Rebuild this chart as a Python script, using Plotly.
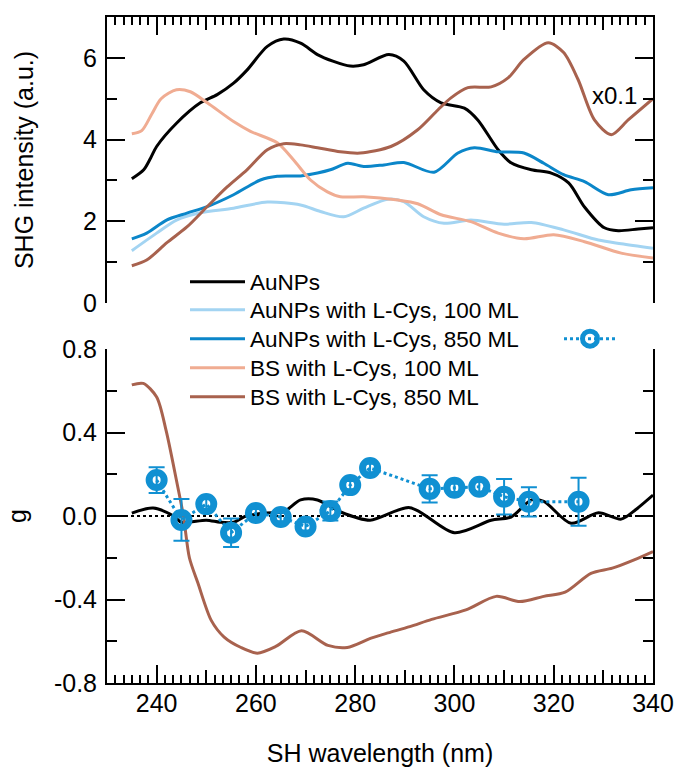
import plotly.graph_objects as go

# ---------------- data ----------------
# Top panel: SHG intensity (a.u.)
au_x = [235, 237.4, 238.8, 240, 244, 248.8, 252.2, 255.5, 258.2, 262.3, 265.6, 269, 272.4, 275.5, 279, 281.7,
        286.8, 289.8, 293.8, 297.3, 302, 304.7, 308.8, 311.4, 315.5, 319.5, 323, 326.2, 330.2, 333, 337, 340]
au_y = [3.04, 3.26, 3.55, 3.83, 4.4, 4.9, 5.1, 5.38, 5.7, 6.28, 6.46, 6.36, 6.08, 5.92, 5.8, 5.83,
        6.08, 5.92, 5.22, 4.9, 4.77, 4.48, 3.75, 3.43, 3.26, 3.18, 2.94, 2.35, 1.84, 1.77, 1.81, 1.84]

au100_x = [235, 240, 244, 248.8, 255.5, 262.3, 269, 273, 277.7, 281.7, 286.6, 289.8, 293.8, 297.9,
           303.3, 310, 315.5, 322, 329, 333.6, 340]
au100_y = [1.28, 1.71, 2.03, 2.21, 2.32, 2.47, 2.4, 2.24, 2.11, 2.32, 2.54, 2.48, 2.11, 1.95,
           2.03, 1.93, 1.97, 1.79, 1.54, 1.45, 1.34]

au850_x = [235, 238, 242, 246.1, 250.2, 255.5, 260.9, 264.3, 269, 272.4, 275, 278.5, 281.7, 285.8,
           289.8, 295.9, 300.7, 304, 308.8, 314, 318, 322, 326.2, 331, 335.6, 340]
au850_y = [1.57, 1.71, 2.03, 2.2, 2.36, 2.65, 3.01, 3.1, 3.11, 3.18, 3.26, 3.42, 3.34, 3.38,
           3.44, 3.2, 3.67, 3.8, 3.7, 3.67, 3.42, 3.14, 2.97, 2.65, 2.77, 2.82]

bs100_x = [235, 237, 239, 240.9, 244, 246.8, 250.2, 255.5, 258.9, 264.3, 267.6, 271, 274.4, 277, 281.7,
           288.6, 292.6, 297.3, 303.3, 308.8, 314, 320, 326.2, 333.6, 340]
bs100_y = [4.14, 4.22, 4.62, 5.0, 5.22, 5.17, 4.9, 4.44, 4.2, 3.92, 3.5, 3.01, 2.72, 2.6, 2.6,
           2.52, 2.43, 2.16, 1.99, 1.71, 1.57, 1.67, 1.5, 1.22, 1.1]

bs850_x = [235, 238, 242, 246.1, 250.2, 254.2, 258.2, 262.3, 265.6, 269, 272.4, 277, 281, 287.2,
           292.6, 296.7, 299.3, 302.7, 307.4, 310.8, 314, 318.9, 322, 324.9, 328.2, 331.6, 335, 340]
bs850_y = [0.91, 1.05, 1.47, 1.86, 2.36, 2.84, 3.26, 3.75, 3.9, 3.87, 3.8, 3.7, 3.67, 3.83,
           4.24, 4.73, 5.02, 5.27, 5.29, 5.51, 5.96, 6.37, 6.13, 5.47, 4.48, 4.12, 4.48, 5.0]

# Bottom panel: g
g_au_x = [235, 239.3, 243.4, 245, 250, 252.8, 255.5, 258, 262, 265.6, 269, 272.4, 277, 283, 291,
          300, 307.4, 311.4, 315.5, 318, 323.5, 329, 333.6, 336.5, 340]
g_au_y = [0.014, 0.038, 0.0, -0.03, -0.02, -0.03, -0.03, 0.0, 0.014, 0.02, 0.077, 0.077, 0.02, -0.02, 0.04,
          -0.08, -0.02, -0.005, 0.077, 0.07, -0.035, 0.015, -0.015, 0.03, 0.1]

g_bs_x = [235, 237.3, 240, 241.9, 244, 245.4, 246.6, 248.3, 251, 253.6, 257, 260.3, 264, 269.2, 274.5,
          278.4, 283.2, 286.6, 291, 295.4, 302.3, 308.4, 313.2, 318, 322.3, 327.5, 331.8, 336.2, 340]
g_bs_y = [0.628, 0.635, 0.57, 0.41, 0.17, 0.0, -0.2, -0.32, -0.50, -0.58, -0.63, -0.657, -0.625, -0.55, -0.62,
          -0.63, -0.585, -0.56, -0.53, -0.495, -0.45, -0.385, -0.41, -0.385, -0.365, -0.275, -0.25, -0.21, -0.17]

g_pts_x = [240, 245, 250, 255, 260, 265, 270, 275, 279, 283, 295, 300, 305, 310, 315, 325]
g_pts_y = [0.172, -0.019, 0.057, -0.08, 0.014, -0.005, -0.05, 0.024, 0.148, 0.23, 0.13, 0.135, 0.14, 0.092, 0.068, 0.068]
g_pts_err = [0.062, 0.1, 0.025, 0.068, 0.02, 0.02, 0.02, 0.045, 0.02, 0.02, 0.065, 0.02, 0.03, 0.085, 0.07, 0.115]

names = ["AuNPs", "AuNPs with L-Cys, 100 ML", "AuNPs with L-Cys, 850 ML",
         "BS with L-Cys, 100 ML", "BS with L-Cys, 850 ML"]
colors = ["#000000", "#a3d4f2", "#0b86c9", "#f0ac92", "#a8624e"]
marker_color = "#1090d2"

x_major = [240, 260, 280, 300, 320, 340]
x_mid = [250, 270, 290, 310, 330]
top_y_ticks = [0, 2, 4, 6]
bot_y_ticks = [-0.8, -0.4, 0.0, 0.4, 0.8]
bot_y_text = ["-0.8", "-0.4", "0.0", "0.4", "0.8"]

FONT = "Liberation Sans, Arial, sans-serif"
LW = 3
TICK_FS = 25
TITLE_FS = 25
LEG_FS = 22.5

fig = go.Figure()

legend_ids = ["legend", "legend2", "legend3", "legend4", "legend5"]
top_series = [(au_x, au_y), (au100_x, au100_y), (au850_x, au850_y), (bs100_x, bs100_y), (bs850_x, bs850_y)]
for (xs, ys), nm, c, lg in zip(top_series, names, colors, legend_ids):
    fig.add_trace(go.Scatter(x=xs, y=ys, mode="lines", name=nm, xaxis="x2", yaxis="y2",
                             line=dict(color=c, width=LW, shape="spline", smoothing=0.8),
                             legend=lg))

fig.add_trace(go.Scatter(x=g_au_x, y=g_au_y, mode="lines", showlegend=False, xaxis="x", yaxis="y",
                         line=dict(color=colors[0], width=LW, shape="spline", smoothing=0.8)))
fig.add_trace(go.Scatter(x=g_bs_x, y=g_bs_y, mode="lines", showlegend=False, xaxis="x", yaxis="y",
                         line=dict(color=colors[4], width=LW, shape="spline", smoothing=0.8)))
fig.add_trace(go.Scatter(x=g_pts_x, y=g_pts_y, mode="lines+markers", name=" ", legend="legend6",
                         xaxis="x", yaxis="y",
                         line=dict(color=marker_color, width=3, dash="dot"),
                         marker=dict(symbol="circle-open", size=15, color=marker_color,
                                     line=dict(width=7, color=marker_color)),
                         error_y=dict(type="data", array=g_pts_err, visible=True, color=marker_color,
                                      thickness=2, width=8)))
# empty traces to activate overlay axes (medium ticks)
fig.add_trace(go.Scatter(x=[], y=[], xaxis="x3", yaxis="y", showlegend=False, hoverinfo="skip"))
fig.add_trace(go.Scatter(x=[], y=[], xaxis="x4", yaxis="y2", showlegend=False, hoverinfo="skip"))

axis_common = dict(showgrid=False, zeroline=False, showline=True, linecolor="black", linewidth=2,
                   ticks="inside", tickcolor="black", tickwidth=2, automargin=False,
                   tickfont=dict(family=FONT, size=TICK_FS, color="black"))
minor_x = dict(tick0=240, dtick=20 / 12, ticklen=8, ticks="inside", tickcolor="black", tickwidth=2)

top_dom = [0.5706, 1.0]
bot_dom = [0.0, 0.5015]

PLOT_TOP, PLOT_BOT, PLOT_L, PLOT_W = 17, 683, 107, 546


def py(px):
    return (PLOT_BOT - px) / (PLOT_BOT - PLOT_TOP)


def pxx(px):
    return (px - PLOT_L) / PLOT_W


legend_rows = [282, 310, 339, 368, 397]
leg_layout = {}
for lg, row in zip(legend_ids, legend_rows):
    leg_layout[lg] = dict(x=pxx(185), y=py(row), xanchor="left", yanchor="middle",
                          bgcolor="rgba(0,0,0,0)", itemwidth=55,
                          font=dict(family=FONT, size=LEG_FS, color="black"))
leg_layout["legend6"] = dict(x=pxx(559), y=py(339), xanchor="left", yanchor="middle",
                             bgcolor="rgba(0,0,0,0)", itemwidth=52,
                             font=dict(family=FONT, size=LEG_FS, color="black"))

fig.update_layout(
    width=675, height=767,
    margin=dict(l=107, r=22, t=17, b=84, autoexpand=False),
    paper_bgcolor="white", plot_bgcolor="white",
    font=dict(family=FONT, size=21, color="black"),
    xaxis=dict(axis_common, range=[230, 340], domain=[0, 1], anchor="y", side="bottom",
               tickvals=x_major, ticklen=18, ticklabelstandoff=-3, minor=minor_x,
               title=dict(text="SH wavelength (nm)", font=dict(size=TITLE_FS), standoff=38)),
    xaxis2=dict(axis_common, range=[230, 340], domain=[0, 1], anchor="y2", side="top",
                tickvals=x_major, ticklen=18, showticklabels=False, minor=minor_x),
    xaxis3=dict(range=[230, 340], overlaying="x", anchor="y", side="bottom", showgrid=False, zeroline=False,
                showline=False, ticks="inside", tickvals=x_mid, ticklen=13, tickwidth=2, tickcolor="black",
                showticklabels=False),
    xaxis4=dict(range=[230, 340], overlaying="x2", anchor="y2", side="top", showgrid=False, zeroline=False,
                showline=False, ticks="inside", tickvals=x_mid, ticklen=13, tickwidth=2, tickcolor="black",
                showticklabels=False),
    yaxis=dict(axis_common, range=[-0.8, 0.8], domain=bot_dom, anchor="x", mirror="ticks",
               tickvals=bot_y_ticks, ticktext=bot_y_text, ticklen=18, ticklabelstandoff=3,
               minor=dict(tickvals=[-0.6, -0.2, 0.2, 0.6], ticklen=10, ticks="inside", tickcolor="black", tickwidth=2),
               title=dict(text="g", font=dict(size=TITLE_FS), standoff=20)),
    yaxis2=dict(axis_common, range=[0, 7], domain=top_dom, anchor="x2", mirror="ticks",
                tickvals=top_y_ticks, ticklen=18, ticklabelstandoff=3,
                minor=dict(tickvals=[1, 3, 5], ticklen=10, ticks="inside", tickcolor="black", tickwidth=2),
                title=dict(text="SHG intensity (a.u.)", font=dict(size=TITLE_FS), standoff=42)),
    showlegend=True,
    **leg_layout,
)

fig.add_shape(type="line", xref="x", yref="y", x0=230, x1=340, y0=0, y1=0,
              line=dict(color="black", width=2, dash="dot"), layer="below")

fig.add_annotation(text="x0.1", xref="x2", yref="y2", x=332.2, y=5.07, showarrow=False,
                   font=dict(family=FONT, size=24, color="black"))

fig.write_html("out.html")
